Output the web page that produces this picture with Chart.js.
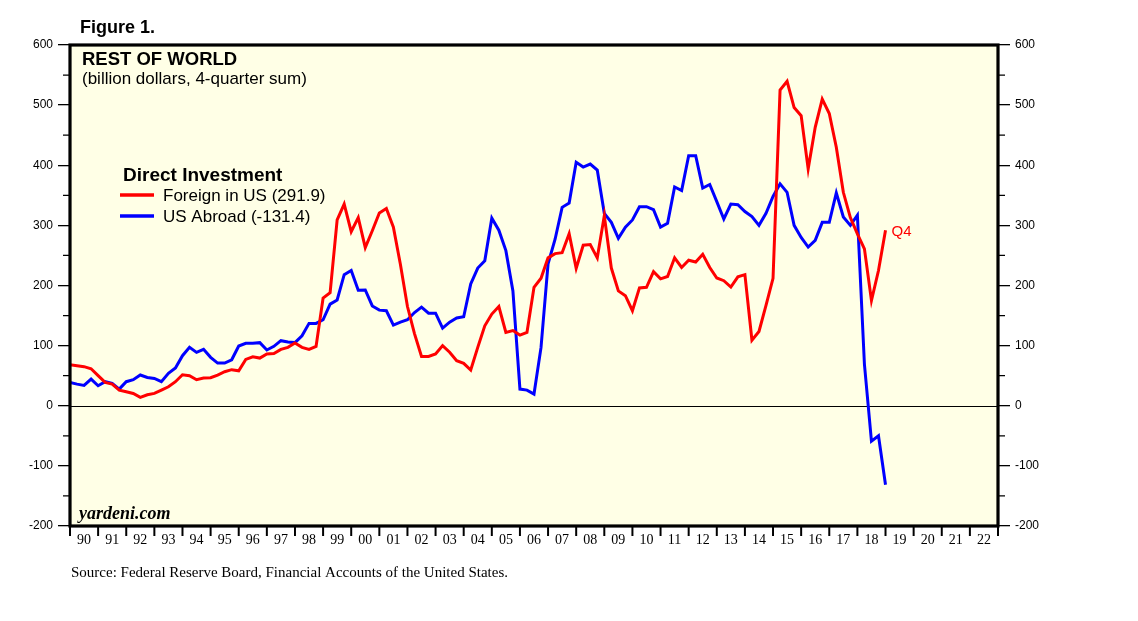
<!DOCTYPE html>
<html>
<head>
<meta charset="utf-8">
<script src="https://cdn.jsdelivr.net/npm/chart.js@4.4.1/dist/chart.umd.min.js"></script>
<style>
html,body{margin:0;padding:0;background:#ffffff;}
#wrap{width:1138px;height:621px;position:relative;}
</style>
</head>
<body>
<div id="wrap"><canvas id="c" width="1138" height="621"></canvas></div>
<script>
// ---- DATA ----
// quarterly, 1989Q4 .. 2018Q4 (plotted at quarter end)
const firstQuarter = '1989Q4';
const lastQuarter = '2018Q4';
const quarters = [];
(function(){
  let y = +firstQuarter.slice(0,4), q = +firstQuarter.slice(5);
  const ly = +lastQuarter.slice(0,4), lq = +lastQuarter.slice(5);
  while (y < ly || (y === ly && q <= lq)) {
    quarters.push(y + 'Q' + q);
    q++; if (q > 4) { q = 1; y++; }
  }
})();

// Foreign direct investment in US (billion $, 4-quarter sum)
const foreignInUS = [
  68.2, 66.6, 65.0, 61.6, 50.0, 38.8, 36.0, 26.0, 23.3, 20.5,
  13.9, 18.3, 20.5, 26.0, 31.6, 40.0, 51.6, 50.0, 43.3, 46.1,
  46.6, 51.1, 56.6, 60.0, 58.2, 77.1, 81.5, 79.3, 86.0, 87.0,
  93.8, 97.1, 104.3, 97.1, 93.8, 98.8, 179.2, 188.0, 309.0, 335.5,
  289.5, 313.0, 263.0, 291.0, 320.5, 328.0, 297.0, 235.0, 165.0, 120.0,
  82.0, 82.0, 86.0, 100.0, 89.0, 75.0, 70.5, 59.4, 97.0, 133.0,
  152.5, 165.0, 122.0, 125.0, 117.6, 122.0, 197.0, 212.0, 246.0, 253.0,
  254.5, 286.0, 228.5, 267.0, 268.0, 246.0, 316.0, 229.0, 191.0, 183.0,
  158.0, 196.0, 197.0, 223.0, 211.0, 215.0, 246.0, 230.0, 242.0, 239.0,
  252.0, 230.0, 212.5, 208.0, 197.5, 214.5, 218.0, 109.0, 123.5, 167.0,
  212.0, 525.0, 539.6, 496.0, 482.5, 394.0, 463.0, 510.0, 486.0, 430.0,
  355.0, 313.0, 286.0, 261.0, 175.0, 225.0, 291.9
];

// US direct investment abroad (billion $, 4-quarter sum)
const usAbroad = [
  38.8, 36.0, 33.9, 44.4, 33.3, 40.0, 37.2, 27.7, 40.0, 43.3,
  51.1, 47.1, 45.5, 40.0, 53.8, 62.7, 83.2, 97.1, 88.8, 93.8,
  80.5, 71.0, 71.0, 76.5, 99.3, 103.8, 103.8, 104.9, 92.7, 98.8,
  108.2, 106.0, 105.0, 116.5, 137.0, 137.0, 143.0, 169.0, 176.0, 218.0,
  225.0, 192.0, 192.5, 166.0, 159.0, 158.0, 134.0, 139.0, 143.0, 155.0,
  164.0, 154.0, 154.0, 129.0, 139.0, 146.0, 148.0, 202.5, 229.0, 241.0,
  312.0, 292.0, 258.0, 191.0, 27.7, 26.0, 19.4, 97.0, 236.0, 277.0,
  330.0, 337.0, 405.0, 397.0, 402.0, 392.0, 320.0, 305.0, 278.5, 297.0,
  309.0, 331.0, 331.0, 326.0, 297.0, 303.5, 364.0, 358.0, 416.0, 416.0,
  362.0, 368.0, 339.5, 310.6, 335.5, 334.5, 323.0, 314.5, 300.0, 320.0,
  348.0, 369.0, 355.0, 300.0, 280.0, 264.0, 275.0, 305.0, 305.0, 354.0,
  314.0, 300.0, 317.0, 69.0, -59.0, -50.0, -131.4
];

const yearLabels = ['90','91','92','93','94','95','96','97','98','99','00','01','02','03','04','05','06','07','08','09','10','11','12','13','14','15','16','17','18','19','20','21','22'];
const xFirstYear = 1990, xLastYear = 2023;
const yMin = -200, yMax = 600, yMajorStep = 100, yMinorStep = 50;

const legendItems = [
  {label: 'Foreign in US (291.9)', color: '#ff0000'},
  {label: 'US Abroad (-131.4)', color: '#0000ff'}
];

function quarterToX(lbl){ return +lbl.slice(0,4) + (+lbl.slice(5))/4; }
const pts = arr => arr.map((v,i) => ({x: quarterToX(quarters[i]), y: v}));

// ---- DECORATION PLUGIN ----
const SANS = '"Liberation Sans", Arial, sans-serif';
const SERIF = '"Liberation Serif", "Times New Roman", serif';
const deco = {
  id: 'deco',
  beforeDraw(chart){
    const {ctx, chartArea: a} = chart;
    ctx.save();
    ctx.fillStyle = '#ffffe6';
    ctx.fillRect(a.left, a.top, a.right - a.left, a.bottom - a.top);
    ctx.restore();
  },
  beforeDatasetsDraw(chart){
    const {ctx, chartArea: a, scales} = chart;
    const y0 = Math.round(scales.y.getPixelForValue(0)) + 0.5;
    ctx.save();
    ctx.strokeStyle = '#000'; ctx.lineWidth = 1;
    ctx.beginPath(); ctx.moveTo(a.left, y0); ctx.lineTo(a.right, y0); ctx.stroke();
    ctx.restore();
  },
  afterDraw(chart){
    const {ctx, chartArea: a, scales} = chart;
    ctx.save();
    // minor y ticks
    ctx.strokeStyle = '#000'; ctx.lineWidth = 1.3;
    for (let v = yMin + yMinorStep; v < yMax; v += yMajorStep) {
      const yp = scales.y.getPixelForValue(v);
      ctx.beginPath(); ctx.moveTo(a.left - 7, yp); ctx.lineTo(a.left, yp);
      ctx.moveTo(a.right, yp); ctx.lineTo(a.right + 7, yp); ctx.stroke();
    }
    // x year ticks
    ctx.lineWidth = 2;
    for (let yr = xFirstYear; yr <= xLastYear; yr++) {
      const xp = scales.x.getPixelForValue(yr);
      ctx.beginPath(); ctx.moveTo(xp, a.bottom); ctx.lineTo(xp, a.bottom + 10); ctx.stroke();
    }
    // frame
    ctx.lineWidth = 3.2;
    ctx.strokeRect(a.left, a.top, a.right - a.left, a.bottom - a.top);

    // texts
    ctx.fillStyle = '#000';
    ctx.textBaseline = 'alphabetic';
    ctx.textAlign = 'left';
    ctx.font = 'bold 18px ' + SANS;
    ctx.fillText('Figure 1.', 80, 32.5);
    ctx.font = 'bold 18.5px ' + SANS;
    ctx.fillText('REST OF WORLD', 82, 65);
    ctx.font = '17px ' + SANS;
    ctx.fillText('(billion dollars, 4-quarter sum)', 82, 84);
    ctx.font = 'bold 19px ' + SANS;
    ctx.fillText('Direct Investment', 123, 181);
    ctx.font = '17px ' + SANS;
    legendItems.forEach((it, i) => {
      const ly = 195 + i * 21;
      ctx.strokeStyle = it.color; ctx.lineWidth = 3.5;
      ctx.beginPath(); ctx.moveTo(120, ly); ctx.lineTo(154, ly); ctx.stroke();
      ctx.fillStyle = '#000';
      ctx.fillText(it.label, 163, ly + 5.5);
    });
    ctx.font = 'bold italic 18px ' + SERIF;
    ctx.fillText('yardeni.com', 79, 519);
    ctx.font = '15px ' + SERIF;
    ctx.fillText('Source: Federal Reserve Board, Financial Accounts of the United States.', 71, 577);

    // Q4 label at last red point
    const meta = chart.getDatasetMeta(0);
    const last = meta.data[meta.data.length - 1];
    ctx.fillStyle = '#ff0000';
    ctx.font = '15px ' + SANS;
    ctx.fillText('Q4', last.x + 6, last.y + 6);
    ctx.restore();
  }
};

const yAxisCommon = {
  min: yMin, max: yMax,
  ticks: {stepSize: yMajorStep, padding: 5, color: '#000', font: {family: SANS, size: 12}},
  grid: {drawOnChartArea: false, drawTicks: true, tickLength: 12, color: '#000', lineWidth: 1.3},
  border: {display: false}
};

new Chart(document.getElementById('c'), {
  type: 'line',
  data: {
    datasets: [
      {label: legendItems[0].label, data: pts(foreignInUS), borderColor: legendItems[0].color, borderWidth: 3, pointRadius: 0, tension: 0, fill: false},
      {label: legendItems[1].label, data: pts(usAbroad), borderColor: legendItems[1].color, borderWidth: 3, pointRadius: 0, tension: 0, fill: false}
    ]
  },
  options: {
    responsive: false, animation: false, devicePixelRatio: 1,
    layout: {padding: {top: 45, left: 0, right: 0, bottom: 0}},
    plugins: {legend: {display: false}, tooltip: {enabled: false}, title: {display: false}},
    scales: {
      x: {
        type: 'linear', position: 'bottom', min: xFirstYear, max: xLastYear,
        afterFit(s){ s.height = 95; },
        afterBuildTicks(s){ s.ticks = yearLabels.map((l, i) => ({value: xFirstYear + i + 0.5})); },
        ticks: {autoSkip: false, maxRotation: 0, minRotation: 0, padding: 6, color: '#000',
                font: {family: SERIF, size: 14},
                callback: (v, i) => yearLabels[i]},
        grid: {display: false, drawTicks: false},
        border: {display: false}
      },
      y: Object.assign({position: 'left', afterFit(s){ s.width = 70; }}, JSON.parse(JSON.stringify(yAxisCommon))),
      y2: Object.assign({position: 'right', afterFit(s){ s.width = 140; }}, JSON.parse(JSON.stringify(yAxisCommon)))
    }
  },
  plugins: [deco]
});
</script>
</body>
</html>
